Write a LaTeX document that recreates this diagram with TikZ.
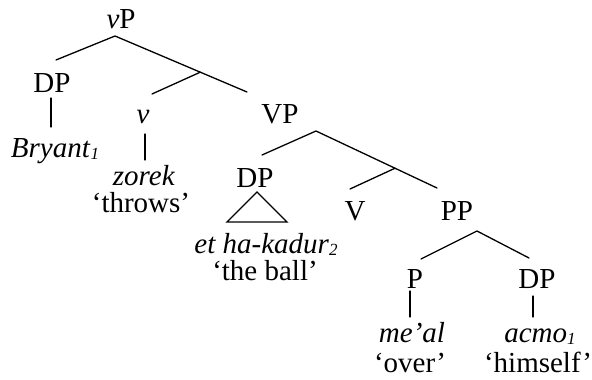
\documentclass[tikz,border=0pt]{standalone}
\usepackage{fontspec}
\setmainfont{Liberation Serif}
\usetikzlibrary{calc}
\tikzset{
  lbl/.style={inner sep=0pt, anchor=base, font=\fontsize{29}{29}\selectfont},
  branch/.style={line width=1.3pt, line cap=round},
}
\newcommand{\idx}[1]{\raisebox{-2pt}{\fontsize{17}{17}\selectfont\itshape #1}}
\begin{document}
\begin{tikzpicture}[x=1pt, y=-1pt]
\useasboundingbox (0,0) rectangle (592,380);

% category labels
\node[lbl] (vP)   at (121,28)  {\textit{v}P};
\node[lbl] (DPa)  at (52,92)   {DP};
\node[lbl] (vsm)  at (143,123) {\textit{v}};
\node[lbl] (VP)   at (280,123) {VP};
\node[lbl] (DPb)  at (255,187) {DP};
\node[lbl] (V)    at (355,220) {V};
\node[lbl] (PP)   at (457,220) {PP};
\node[lbl] (P)    at (415,288) {P};
\node[lbl] (DPc)  at (537,288) {DP};

% words and glosses
\node[lbl] (bryant) at (55,157)  {\textit{Bryant}\idx{1}};
\node[lbl] (zorek)  at (144,185) {\textit{zorek}};
\node[lbl] (throws) at (141,212) {‘throws’};
\node[lbl] (kadur)  at (266,253) {\textit{et ha-kadur}\idx{2}};
\node[lbl] (ball)   at (265,280) {‘the ball’};
\node[lbl] (meal)   at (412,342) {\textit{me’al}};
\node[lbl] (over)   at (410,372) {‘over’};
\node[lbl] (acmo)   at (540,342) {\textit{acmo}\idx{1}};
\node[lbl] (himself) at (538,372) {‘himself’};

% branch points
\coordinate (vP-top) at (115,36);
\coordinate (vP-l)   at (56,60);
\coordinate (vP-r)   at (247,92);
\coordinate (vbar)   at ($(vP-top)!0.646!(vP-r)$);
\coordinate (vbar-l) at (152,94);

\coordinate (VP-top) at (316,131);
\coordinate (VP-l)   at (262,155);
\coordinate (VP-r)   at (437,188);
\coordinate (Vbar)   at ($(VP-top)!0.653!(VP-r)$);
\coordinate (Vbar-l) at (350,189);

\coordinate (PP-top) at (477,231);
\coordinate (PP-l)   at (421,259);
\coordinate (PP-r)   at (529,258);

\coordinate (DPa-d) at (51,98);   \coordinate (bry-u)  at (51,127);
\coordinate (v-d)   at (145,134); \coordinate (zor-u)  at (145,160);
\coordinate (P-d)   at (410,291); \coordinate (meal-u) at (410,317);
\coordinate (DPc-d) at (533,296); \coordinate (acmo-u) at (533,317);

\coordinate (tri-top) at (257,192);
\coordinate (tri-l)   at (227,222);
\coordinate (tri-r)   at (287,222);

% branches
\draw[branch] (vP-l) -- (vP-top) -- (vP-r);
\draw[branch] (vbar) -- (vbar-l);
\draw[branch] (VP-l) -- (VP-top) -- (VP-r);
\draw[branch] (Vbar) -- (Vbar-l);
\draw[branch] (PP-l) -- (PP-top) -- (PP-r);
\draw[branch] (DPa-d) -- (bry-u);
\draw[branch] (v-d) -- (zor-u);
\draw[branch] (P-d) -- (meal-u);
\draw[branch] (DPc-d) -- (acmo-u);
\draw[branch, line join=miter] (tri-top) -- (tri-l) -- (tri-r) -- cycle;
\end{tikzpicture}
\end{document}
